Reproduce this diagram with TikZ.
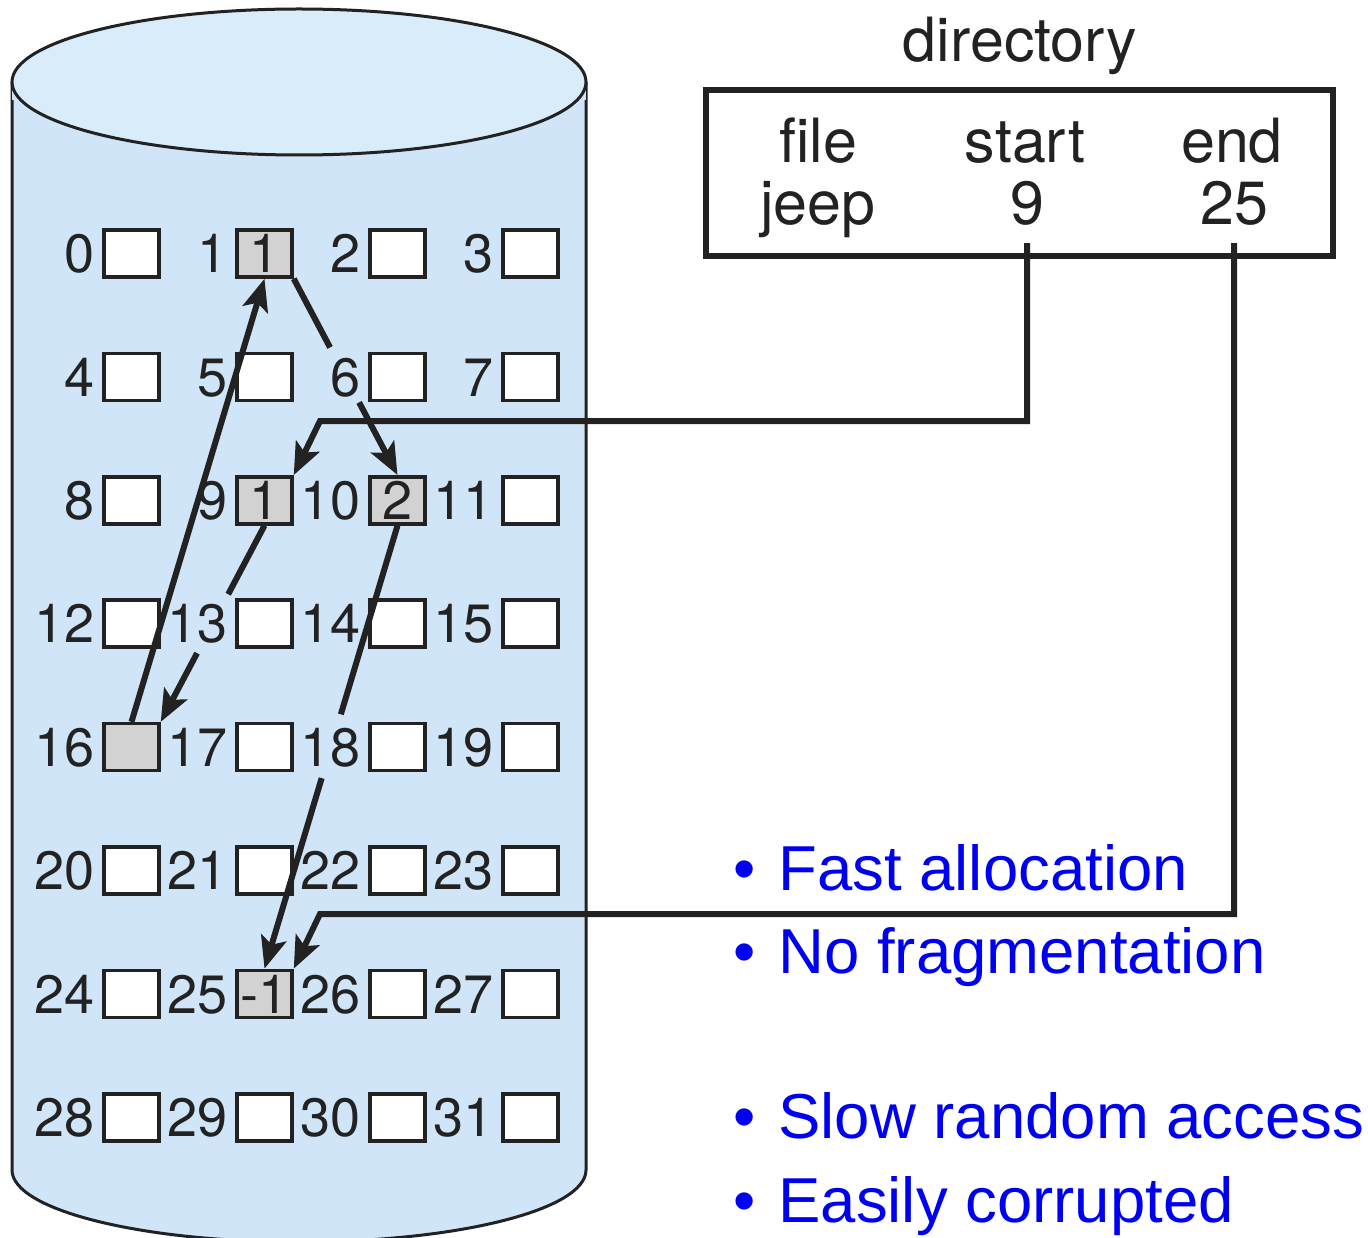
\documentclass[tikz,border=0pt]{standalone}
\usepackage{fontspec}
\usetikzlibrary{arrows.meta,calc}
\newfontfamily\hv{TeX Gyre Heros}
\newfontfamily\ar{Liberation Sans}
\definecolor{cylbody}{RGB}{208,230,248}
\definecolor{cyltop}{RGB}{216,236,250}
\definecolor{blkgray}{RGB}{210,210,210}
\definecolor{inkgray}{RGB}{34,34,34}
\definecolor{bulletblue}{RGB}{0,0,240}
\begin{document}
\begin{tikzpicture}[x=1pt,y=-1pt,
  blk/.style={draw=inkgray, line width=3.5pt, minimum width=55pt, minimum height=47pt,
    inner sep=0pt, font=\hv\fontsize{54}{54}\selectfont, text=inkgray},
  lbl/.style={inner sep=0pt, font=\hv\fontsize{54}{54}\selectfont, text=inkgray, anchor=base east},
  dtxt/.style={inner sep=0pt, font=\hv\fontsize{61}{61}\selectfont, text=inkgray, anchor=base},
  chain/.style={draw=inkgray, line width=6pt},
  conn/.style={draw=inkgray, line width=6pt},
  arrowed/.style={-{Stealth[length=32pt,width=26pt,inset=7pt]}},
  bul/.style={inner sep=0pt, anchor=base west, font=\ar\fontsize{63.5}{63.5}\selectfont, text=bulletblue}
]
\useasboundingbox (0,0) rectangle (1368,1238);
% cylinder
\path[fill=cylbody, draw=inkgray, line width=3pt]
  (12,82) -- (12,1170) .. controls (12,1209.8) and (140.5,1242) .. (299,1242)
  .. controls (457.5,1242) and (586,1209.8) .. (586,1170) -- (586,82);
\fill[cylbody] (12,82) rectangle (586,100);
\draw[fill=cyltop, draw=inkgray, line width=3pt] (299,82) ellipse [x radius=287, y radius=73];
% blocks
\foreach \n/\f/\t in {0/white/{},1/blkgray/1,2/white/{},3/white/{},
  4/white/{},5/white/{},6/white/{},7/white/{},
  8/white/{},9/blkgray/1,10/blkgray/2,11/white/{},
  12/white/{},13/white/{},14/white/{},15/white/{},
  16/blkgray/{},17/white/{},18/white/{},19/white/{},
  20/white/{},21/white/{},22/white/{},23/white/{},
  24/white/{},25/blkgray/-1,26/white/{},27/white/{},
  28/white/{},29/white/{},30/white/{},31/white/{}}{
  \pgfmathtruncatemacro\r{\n/4}
  \pgfmathtruncatemacro\c{\n-4*\r}
  \node[blk, fill=\f] (b\n) at ({131.5+133*\c},{253.5+123.4*\r}) {\t};
  \node[lbl] (l\n) at ([xshift=-8pt,yshift=6pt]b\n.south west) {\n};
}
% chain
\draw[chain, arrowed] (b16.north) -- (b1.south);
\draw[chain] (b1.south east) -- ($(b1.south east)!0.35!(b10.north)$);
\draw[chain, arrowed] ($(b1.south east)!0.63!(b10.north)$) -- (b10.north);
\draw[chain] (b9.south) -- ($(b9.south)!0.35!(b16.north east)$);
\draw[chain, arrowed] ($(b9.south)!0.65!(b16.north east)$) -- (b16.north east);
\draw[chain] (b10.south) -- ($(b10.south)!0.426!(b25.north)$);
\draw[chain, arrowed] ($(b10.south)!0.57!(b25.north)$) -- (b25.north);
% directory
\node[dtxt] (dtitle) at (1020,62) {directory};
\node[draw=inkgray, line width=5.5pt, minimum width=627pt, minimum height=166pt, inner sep=0pt] (dir) at (1019.5,173) {};
\node[dtxt] (hfile) at (818,163) {file};
\node[dtxt] (hstart) at (1025,163) {start};
\node[dtxt] (hend) at (1232,163) {end};
\node[dtxt] (vjeep) at (818,225) {jeep};
\node[dtxt] (v9) at (1027,225) {9};
\node[dtxt] (v25) at (1234,225) {25};
\coordinate (ka) at (320,421);
\coordinate (kb) at (320,914);
\draw[conn, arrowed] ([yshift=-17pt]v9.south) |- (ka) -- (b9.north east);
\draw[conn, arrowed] ([yshift=-17pt]v25.south) |- (kb) -- (b25.north east);
% bullets
\node[bul] (p1) at (733,890) {•\hspace{23pt}Fast allocation};
\node[bul] (p2) at (733,973) {•\hspace{23pt}No fragmentation};
\node[bul] (p3) at (733,1138) {•\hspace{23pt}Slow random access};
\node[bul] (p4) at (733,1222) {•\hspace{23pt}Easily corrupted};
\end{tikzpicture}
\end{document}
